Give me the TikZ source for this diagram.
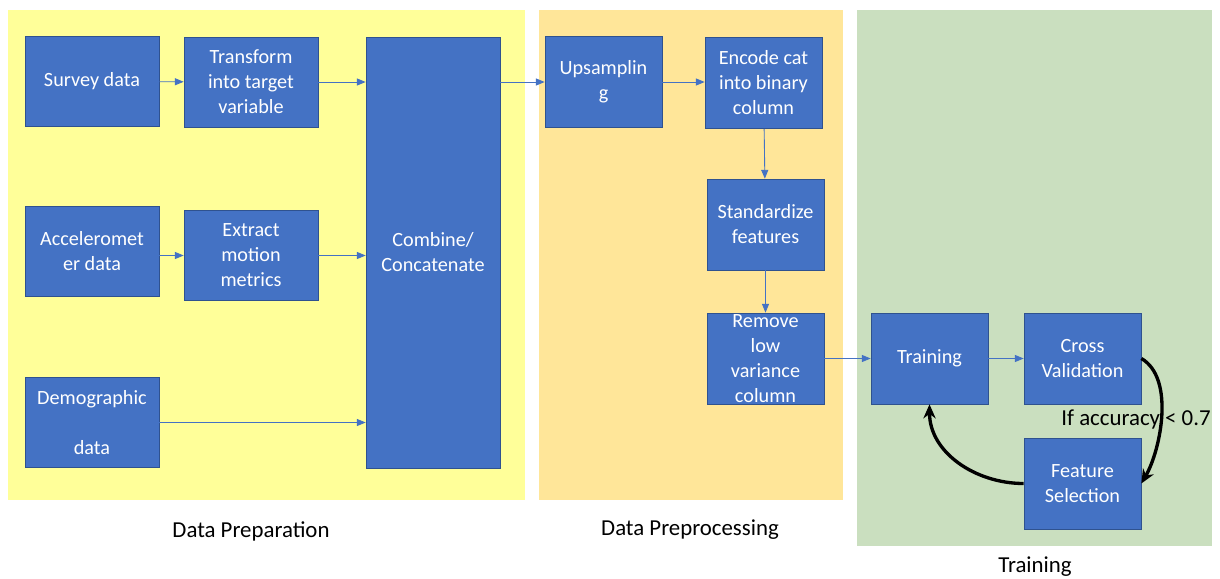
\documentclass[tikz,border=0pt]{standalone}
\usepackage{fontspec}
\setmainfont{Carlito}
\usetikzlibrary{arrows.meta}
\definecolor{boxblue}{HTML}{4472C4}
\definecolor{boxedge}{HTML}{2F528F}
\definecolor{prepyellow}{HTML}{FFFF99}
\definecolor{procorange}{HTML}{FFE699}
\definecolor{traingreen}{HTML}{CADFBF}
\begin{document}
\begin{tikzpicture}[
x=0.02cm, y=-0.02cm,
stepbox/.style={rectangle, draw=boxedge, fill=boxblue, text=white, align=center,
  font=\fontsize{11.5}{14.2}\selectfont, inner sep=0pt},
widebox/.style={stepbox, minimum width=2.68cm, minimum height=1.8cm},
narrowbox/.style={stepbox, minimum width=2.34cm, minimum height=1.82cm},
panellabel/.style={font=\fontsize{13}{15}\selectfont, text=black},
flow/.style={draw=boxblue, line width=0.5pt, -{Triangle[length=5pt,width=4pt]}},
loopback/.style={draw=black, line width=1.9pt, -{Stealth[length=8pt,width=7pt]}},
]
\useasboundingbox (0,0) rectangle (1220,578);
\fill[white] (0,0) rectangle (1220,578);

\fill[prepyellow] (8,10) rectangle (525,500);
\fill[procorange] (539,10) rectangle (843,500);
\fill[traingreen] (857,10) rectangle (1212,546);

\node[panellabel] (prep)  at (251,531)  {Data Preparation};
\node[panellabel] (proc)  at (690,530)  {Data Preprocessing};
\node[panellabel] (train) at (1035,567) {Training};

\node[widebox]            (survey)    at (92,81.5)    {Survey data};
\node[widebox]            (transform) at (251,82)     {Transform\\into target\\variable};
\node[widebox]            (accel)     at (92,251.5)   {Acceleromet\\er data};
\node[widebox]            (extract)   at (251,255.5)  {Extract\\motion\\metrics};
\node[widebox]            (demo)      at (92,422.5)   {Demographic\\~\\data};
\node[widebox, minimum height=8.62cm] (combine) at (433,252.5) {Combine/\\Concatenate};

\node[narrowbox]          (upsample)  at (603.5,82)   {Upsamplin\\g};
\node[narrowbox]          (encode)    at (763.5,83)   {Encode cat\\into binary\\column};
\node[narrowbox]          (standard)  at (765.5,224.5) {Standardize\\features};
\node[narrowbox]          (remove)    at (765.5,358.5) {Remove\\low\\variance\\column};

\node[narrowbox]          (training)  at (929.5,358.5)  {Training};
\node[narrowbox]          (crossval)  at (1082.5,358.5) {Cross\\Validation};
\node[narrowbox]          (featsel)   at (1082.5,483.5) {Feature\\Selection};

\draw[flow] (survey) -- (transform);
\draw[flow] (transform) -- (transform -| combine.west);
\draw[flow] (accel.east |- extract) -- (extract);
\draw[flow] (extract) -- (extract -| combine.west);
\draw[flow] (demo) -- (demo -| combine.west);
\draw[flow] (upsample -| combine.east) -- (upsample);
\draw[flow] (upsample) -- (upsample -| encode.west);
\draw[flow] (encode) -- (standard);
\draw[flow] (standard) -- (remove);
\draw[flow] (remove) -- (training);
\draw[flow] (training) -- (crossval);

\draw[loopback] (crossval.east) to[out=-30, in=60, looseness=0.8] (featsel.east);
\draw[loopback] (featsel.west) to[out=180, in=-90] (training.south);
\node[panellabel] (cond) at (1136,420) {If accuracy < 0.7};

\end{tikzpicture}
\end{document}
